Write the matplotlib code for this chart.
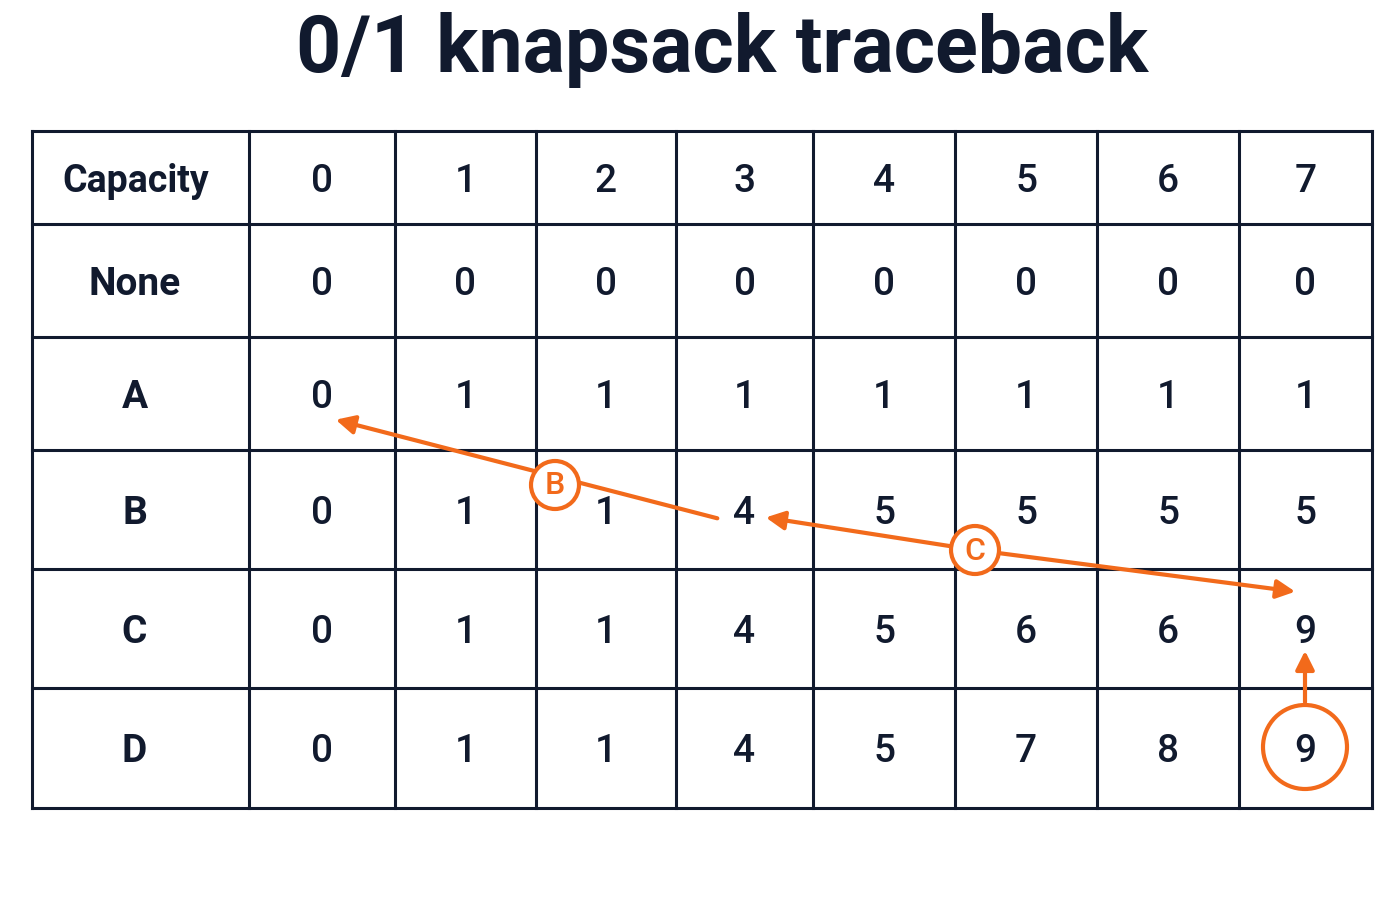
import matplotlib.pyplot as plt
from matplotlib.patches import Circle

plt.rcParams['font.family'] = ['Roboto', 'DejaVu Sans']

capacities = [0, 1, 2, 3, 4, 5, 6, 7]
items = ["None", "A", "B", "C", "D"]
dp = [
    [0, 0, 0, 0, 0, 0, 0, 0],
    [0, 1, 1, 1, 1, 1, 1, 1],
    [0, 1, 1, 4, 5, 5, 5, 5],
    [0, 1, 1, 4, 5, 6, 6, 9],
    [0, 1, 1, 4, 5, 7, 8, 9],
]

INK = "#111a2e"
ORANGE = "#f26a1b"
col_edges = [32, 249, 395, 536, 676, 813, 955, 1097, 1239, 1372]
row_edges = [131, 224, 337, 450, 569, 688, 808]

fig = plt.figure(figsize=(14, 9), dpi=100)
ax = fig.add_axes([0, 0, 1, 1])
ax.set_xlim(0, 1400)
ax.set_ylim(900, 0)
ax.axis("off")

ax.text(722, 50, "0/1 knapsack traceback", ha="center", va="center",
        fontsize=57, fontweight="bold", color=INK)

for x in col_edges:
    ax.plot([x, x], [row_edges[0], row_edges[-1]], color=INK, lw=2.2)
for y in row_edges:
    ax.plot([col_edges[0], col_edges[-1]], [y, y], color=INK, lw=2.2)


def cx(c):
    return (col_edges[c] + col_edges[c + 1]) / 2


def cy(r):
    return (row_edges[r] + row_edges[r + 1]) / 2 + 4


ax.text(cx(0) - 5, cy(0), "Capacity", ha="center", va="center", fontsize=27,
        fontweight="bold", color=INK)
for j, c in enumerate(capacities):
    ax.text(cx(j + 1), cy(0), str(c), ha="center", va="center", fontsize=28,
            fontweight="medium", color=INK)
for i, name in enumerate(items):
    ax.text(cx(0) - 6, cy(i + 1), name, ha="center", va="center", fontsize=28,
            fontweight="bold", color=INK)
    for j, v in enumerate(dp[i]):
        ax.text(cx(j + 1), cy(i + 1), str(v), ha="center", va="center",
                fontsize=28, fontweight="medium", color=INK)

# traceback annotations
aprops = dict(arrowstyle="-|>", color=ORANGE, lw=3, mutation_scale=28)
ax.annotate("", xy=(1305, 648), xytext=(1305, 705), arrowprops=aprops)
ax.add_patch(Circle((1305, 747), 42, fill=False, ec=ORANGE, lw=3))
ax.annotate("", xy=(1298, 592), xytext=(975, 550), arrowprops=aprops)
ax.annotate("", xy=(763, 517), xytext=(975, 550), arrowprops=aprops)
ax.annotate("", xy=(333, 419), xytext=(720, 519), arrowprops=aprops)
for (x, y, lab) in [(975, 550, "C"), (555, 485, "B")]:
    ax.add_patch(Circle((x, y), 24, fc="white", ec=ORANGE, lw=3, zorder=5))
    ax.text(x, y + 1, lab, ha="center", va="center", fontsize=23, color=ORANGE,
            fontweight="medium", zorder=6)

fig.savefig("out.png", dpi=100, facecolor="white")
